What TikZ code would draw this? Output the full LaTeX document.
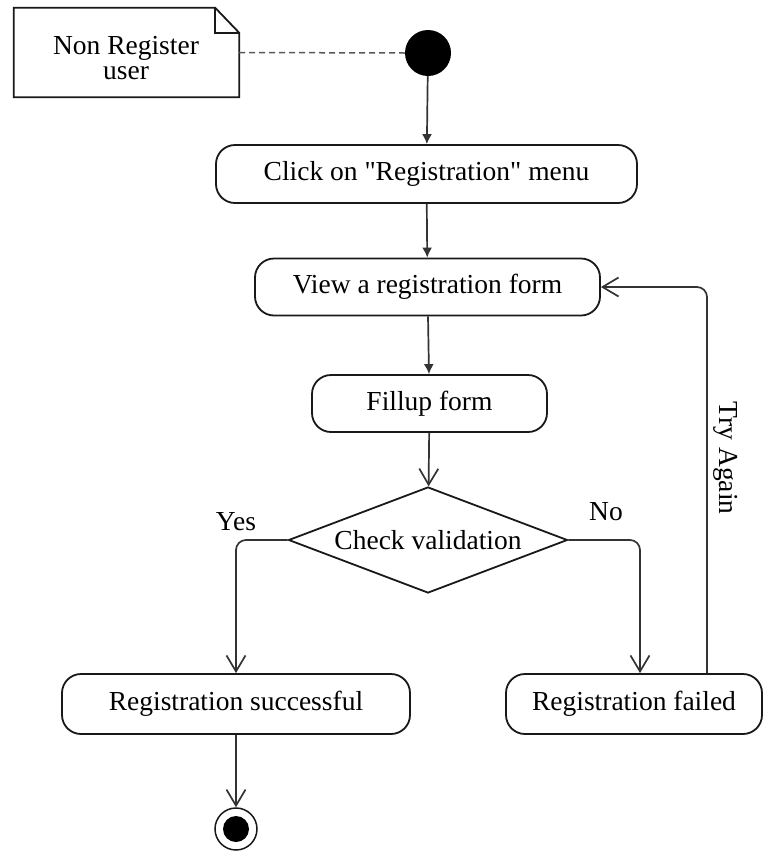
\documentclass[tikz,border=0pt]{standalone}
\usepackage{fontspec}
\setmainfont{Liberation Serif}[Ligatures=TeXOff]
\usepackage{tikz}
\usetikzlibrary{arrows.meta}
\usetikzlibrary{shapes.geometric, calc}

\tikzset{
  actbox/.style={draw=black!90, line width=1.8pt, rounded corners=19pt, inner sep=0pt},
  flow/.style={draw=black!80, line width=1.7pt, arrows=-{Latex[length=10pt,width=10pt]}},
  flowopen/.style={draw=black!80, line width=1.7pt, arrows=-{Straight Barb[length=16pt,width=19pt]}},
}

\begin{document}
\begin{tikzpicture}[x=1pt, y=-1pt, font=\fontsize{27.5}{29}\selectfont]
          \useasboundingbox (0,0) rectangle (764,852);

          \node [inner sep=0pt, minimum width=225pt, minimum height=89pt] (note) at (126.5,52.5) {}; % the note
          \node [inner sep=0pt, align=center, font=\fontsize{27.5}{25}\selectfont] (notetext) at (126,58) {Non Register\\user};
          \draw [black!90, line width=1.8pt] (note.north west) -- ($(note.north east)+(-24,0)$) -- ($(note.north east)+(0,25)$) -- (note.south east) -- (note.south west) -- cycle;
          \draw [black!90, line width=1.5pt] ($(note.north east)+(-24,0)$) -- ($(note.north east)+(-24,25)$) -- ($(note.north east)+(0,25)$);

          \node [circle, fill=black, inner sep=0pt, minimum size=46pt] (start) at (428,53) {}; % start

          \node [actbox, minimum width=421pt, minimum height=58pt] (click) at (426.5,174) {Click on "Registration" menu};
          \node [actbox, minimum width=345pt, minimum height=57pt] (view) at (427.5,287) {View a registration form};
          \node [actbox, minimum width=235pt, minimum height=57pt] (fillup) at (429.5,403.5) {Fillup form};

          \node [diamond, draw=black!90, line width=1.8pt, inner sep=0pt, aspect=2.6, minimum width=279pt, minimum height=106pt] (check) at (428,540) {Check validation};

          \node [actbox, minimum width=348pt, minimum height=60pt] (success) at (236,704) {Registration successful};
          \node [actbox, minimum width=256pt, minimum height=60pt] (failed) at (634,704) {Registration failed};

          \node [circle, draw=black!90, line width=1.5pt, inner sep=0pt, minimum size=42pt] (stop) at (236,829) {}; % end
          \fill [black] (stop.center) circle (13);

          \node (yes) at (236,522) {Yes};
          \node (no) at (606,512) {No};
          \node [rotate=-90] (tryagain) at (726,458) {Try Again};
          \coordinate (back) at (707,287);

          \draw [black!65, line width=1.5pt, dash pattern=on 6pt off 4pt] (note.east) -- (start.west);

          \draw [flow] (start) -- (click);
          \draw [flow] (click) -- (view);
          \draw [flow] (view) -- (fillup);
          \draw [flowopen] (fillup) -- (check);

          \draw [flowopen, rounded corners=10pt] (check.west) -| (success.north);
          \draw [flowopen, rounded corners=10pt] (check.east) -| ([xshift=6pt]failed.north);
          \draw [flowopen, rounded corners=10pt] (failed.north -| back) |- (view.east);

          \draw [flowopen] (success) -- (stop);
        \end{tikzpicture}
\end{document}
